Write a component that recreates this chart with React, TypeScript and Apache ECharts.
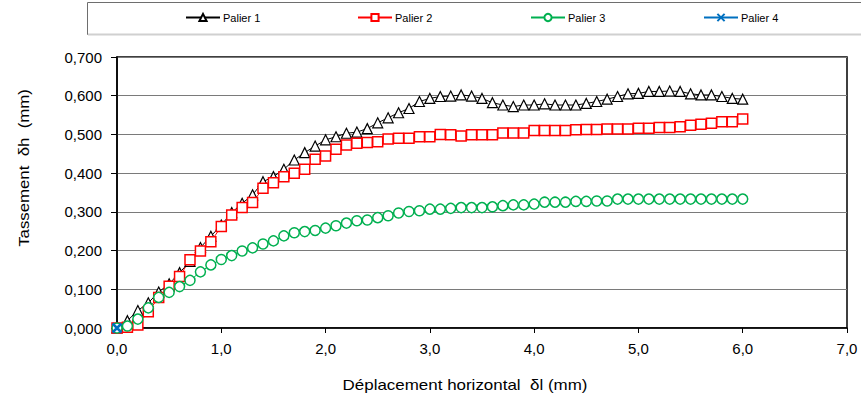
import React, { useEffect, useRef } from "react";
import * as echarts from "echarts";

const xValues = [
  0.0, 0.1, 0.2, 0.3, 0.4, 0.5, 0.6, 0.7, 0.8, 0.9,
  1.0, 1.1, 1.2, 1.3, 1.4, 1.5, 1.6, 1.7, 1.8, 1.9,
  2.0, 2.1, 2.2, 2.3, 2.4, 2.5, 2.6, 2.7, 2.8, 2.9,
  3.0, 3.1, 3.2, 3.3, 3.4, 3.5, 3.6, 3.7, 3.8, 3.9,
  4.0, 4.1, 4.2, 4.3, 4.4, 4.5, 4.6, 4.7, 4.8, 4.9,
  5.0, 5.1, 5.2, 5.3, 5.4, 5.5, 5.6, 5.7, 5.8, 5.9,
  6.0,
];

const palier1 = [
  0, 0.019, 0.045, 0.065, 0.093, 0.114, 0.143, 0.172, 0.208, 0.237,
  0.266, 0.298, 0.322, 0.344, 0.378, 0.391, 0.41, 0.434, 0.453, 0.47,
  0.486, 0.494, 0.503, 0.506, 0.515, 0.53, 0.543, 0.556, 0.567, 0.585,
  0.593, 0.598, 0.599, 0.602, 0.599, 0.593, 0.582, 0.576, 0.572, 0.576,
  0.576, 0.579, 0.576, 0.576, 0.576, 0.58, 0.585, 0.591, 0.598, 0.605,
  0.606, 0.611, 0.611, 0.612, 0.611, 0.605, 0.602, 0.602, 0.598, 0.593,
  0.591,
];

const palier2 = [
  0, 0.002, 0.008, 0.042, 0.079, 0.108, 0.133, 0.176, 0.199, 0.223,
  0.262, 0.292, 0.311, 0.324, 0.361, 0.375, 0.391, 0.4, 0.41, 0.436,
  0.444, 0.462, 0.473, 0.477, 0.479, 0.481, 0.488, 0.49, 0.49, 0.494,
  0.494, 0.5, 0.499, 0.496, 0.499, 0.499, 0.499, 0.504, 0.504, 0.504,
  0.51, 0.51, 0.51, 0.51, 0.512, 0.513, 0.513, 0.514, 0.514, 0.514,
  0.516, 0.516, 0.518, 0.518, 0.52, 0.524, 0.526, 0.529, 0.533, 0.533,
  0.54,
];

const palier3 = [
  0, 0.005, 0.023, 0.052, 0.079, 0.092, 0.107, 0.123, 0.145, 0.163,
  0.177, 0.187, 0.199, 0.207, 0.217, 0.225, 0.238, 0.246, 0.249, 0.252,
  0.258, 0.264, 0.271, 0.277, 0.279, 0.285, 0.29, 0.297, 0.301, 0.303,
  0.307, 0.307, 0.309, 0.311, 0.311, 0.311, 0.313, 0.316, 0.318, 0.318,
  0.32, 0.325, 0.325, 0.325, 0.327, 0.327, 0.328, 0.328, 0.333, 0.333,
  0.333, 0.333, 0.333, 0.333, 0.333, 0.333, 0.333, 0.333, 0.333, 0.333,
  0.333,
];

const palier4X = [0.0];
const palier4 = [0.0];

const seriesNames = ["Palier 1", "Palier 2", "Palier 3", "Palier 4"];
const xTickMax = 7;
const yTickMax = 0.7;

const FONT = "'Liberation Sans', Arial, sans-serif";

function pairs(xs: number[], ys: number[]) {
  return ys.map((y, i) => [xs[i], y]);
}

export default function App() {
  const ref = useRef<HTMLDivElement>(null);

  useEffect(() => {
    if (!ref.current) return;
    const chart = echarts.init(ref.current, undefined, { renderer: "svg" });

    const legendLefts = [185, 357, 530, 703];
    const legends = seriesNames.map((name, i) => ({
      data: [name],
      left: legendLefts[i],
      top: 12,
      padding: 0,
      itemWidth: 34,
      itemHeight: 9,
      itemGap: 0,
      lineStyle: { width: 2 },
      textStyle: { fontFamily: FONT, fontSize: 11, color: "#000", padding: [0, 0, 0, -2] },
    }));

    chart.setOption({
      animation: false,
      backgroundColor: "#fff",
      legend: legends,
      grid: {
        left: 117,
        right: 14,
        top: 57,
        bottom: 66,
        show: true,
        borderColor: "#000",
        borderWidth: 1.5,
        backgroundColor: "transparent",
      },
      xAxis: {
        type: "value",
        min: 0,
        max: xTickMax,
        interval: 1,
        axisLine: { show: true, onZero: false, lineStyle: { color: "#000", width: 1.5 } },
        axisTick: { show: true, length: 5, lineStyle: { color: "#000" } },
        splitLine: { show: false },
        axisLabel: {
          margin: 13,
          fontFamily: FONT,
          fontSize: 15,
          color: "#000",
          formatter: (v: number) => v.toFixed(1).replace(".", ","),
        },
      },
      yAxis: {
        type: "value",
        min: 0,
        max: yTickMax,
        interval: 0.1,
        axisLine: { show: true, onZero: false, lineStyle: { color: "#000", width: 1.5 } },
        axisTick: { show: true, length: 6, lineStyle: { color: "#000" } },
        splitLine: { show: true, lineStyle: { color: "#7a7a7a", width: 1 } },
        axisLabel: {
          margin: 15,
          fontFamily: FONT,
          fontSize: 15,
          color: "#000",
          formatter: (v: number) => v.toFixed(3).replace(".", ","),
        },
      },
      graphic: [
        {
          type: "rect",
          silent: true,
          shape: { x: 87.5, y: 2.5, width: 800, height: 32 },
          style: { fill: "none", stroke: "#6e6e6e", lineWidth: 1 },
          z: 0,
        },
        {
          type: "line",
          silent: true,
          shape: { x1: 88, y1: 34.5, x2: 861, y2: 34.5 },
          style: { stroke: "#d0d0d0", lineWidth: 2 },
          z: 1,
        },
        {
          type: "text",
          silent: true,
          x: 465,
          y: 385,
          scaleX: 1.13,
          style: {
            text: "Déplacement horizontal  δl (mm)",
            fontFamily: FONT,
            fontSize: 15,
            fill: "#000",
            align: "center",
            verticalAlign: "middle",
          },
        },
        {
          type: "text",
          silent: true,
          x: 24,
          y: 168,
          rotation: Math.PI / 2,
          scaleX: 1.12,
          style: {
            text: "Tassement  δh  (mm)",
            fontFamily: FONT,
            fontSize: 15,
            fill: "#000",
            align: "center",
            verticalAlign: "middle",
          },
        },
      ],
      series: [
        {
          name: seriesNames[0],
          type: "line",
          data: pairs(xValues, palier1),
          symbol: "triangle",
          symbolSize: 10,
          showAllSymbol: true,
          lineStyle: { color: "#000", width: 1 },
          itemStyle: { color: "#fff", borderColor: "#000", borderWidth: 1.2 },
        },
        {
          name: seriesNames[1],
          type: "line",
          data: pairs(xValues, palier2),
          symbol: "rect",
          symbolSize: 10,
          showAllSymbol: true,
          lineStyle: { color: "#ff0000", width: 1 },
          itemStyle: { color: "#fff", borderColor: "#ff0000", borderWidth: 1.5 },
        },
        {
          name: seriesNames[2],
          type: "line",
          data: pairs(xValues, palier3),
          symbol: "circle",
          symbolSize: 10,
          showAllSymbol: true,
          lineStyle: { color: "#00b050", width: 1 },
          itemStyle: { color: "#fff", borderColor: "#00b050", borderWidth: 1.5 },
        },
        {
          name: seriesNames[3],
          type: "line",
          data: pairs(palier4X, palier4),
          symbol: "path://M0,0L10,10M10,0L0,10",
          symbolSize: 9,
          showAllSymbol: true,
          lineStyle: { color: "#0070c0", width: 1 },
          itemStyle: { color: "#0070c0", borderColor: "#0070c0", borderWidth: 2.5 },
        },
      ],
    });

    return () => chart.dispose();
  }, []);

  return (
    <div
      ref={ref}
      style={{ position: "fixed", left: 0, top: 0, width: 861, height: 394 }}
    />
  );
}
